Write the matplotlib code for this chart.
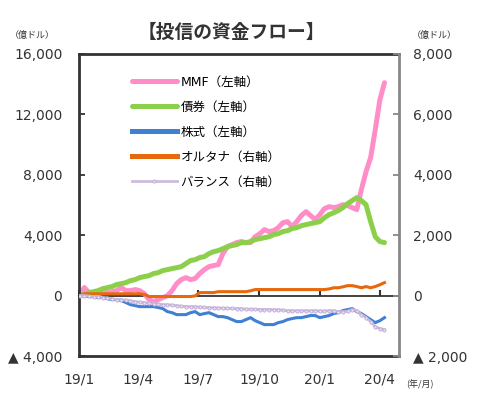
import numpy as np
import pandas as pd
import matplotlib
matplotlib.use('Agg')
import matplotlib.pyplot as plt

plt.rcParams['font.family'] = ['DejaVu Sans', 'Noto Sans CJK JP']

# weekly flows, 2019/1 - 2020/4 (cumulative, 億ドル)
weeks = pd.date_range('2019-01-02', periods=67, freq='7D')

mmf = [0, 530, 200, 130, 130, 200, 200, 260, 330, 530, 330, 330, 400, 330, 130,
       -260, -400, -260, -130, 0, 330, 790, 1060, 1190, 1060, 1130, 1460, 1720,
       1920, 1990, 2050, 2780, 3240, 3380, 3510, 3580, 3510, 3510, 3900, 4100,
       4370, 4240, 4300, 4500, 4830, 4900, 4570, 4900, 5300, 5560, 5300, 5030,
       5360, 5760, 5890, 5830, 5890, 6020, 5960, 5830, 5690, 7020, 8210, 9140,
       10990, 12970, 14100]

bonds = [0, 70, 200, 260, 330, 460, 530, 600, 730, 790, 860, 990, 1060, 1190,
         1260, 1320, 1460, 1520, 1660, 1720, 1790, 1850, 1920, 2120, 2320, 2380,
         2520, 2580, 2780, 2910, 2980, 3110, 3240, 3310, 3380, 3510, 3510, 3580,
         3710, 3770, 3840, 3900, 4040, 4100, 4240, 4300, 4440, 4500, 4630, 4700,
         4770, 4830, 4900, 5160, 5360, 5490, 5630, 5830, 6090, 6290, 6490, 6290,
         6020, 4900, 3900, 3580, 3510]

equities = [70, 0, -70, -70, -130, -130, -200, -260, -260, -330, -460, -600,
            -660, -730, -730, -730, -730, -790, -860, -1060, -1130, -1260, -1260,
            -1260, -1130, -1060, -1260, -1190, -1130, -1260, -1390, -1390, -1460,
            -1590, -1720, -1720, -1590, -1460, -1660, -1790, -1920, -1920, -1920,
            -1790, -1720, -1590, -1520, -1460, -1460, -1390, -1320, -1320, -1460,
            -1390, -1320, -1190, -1130, -990, -930, -860, -1060, -1190, -1390,
            -1590, -1790, -1660, -1460]

alternative = [0, 60, 60, 60, 60, 60, 60, 60, 60, 60, 60, 60, 60, 60, 40, -30,
               -30, -30, -30, -30, -30, -30, -30, -30, -30, -10, 100, 100, 100,
               100, 130, 130, 130, 130, 130, 130, 130, 160, 200, 200, 200, 200,
               200, 200, 200, 200, 200, 200, 200, 200, 200, 200, 200, 200, 220,
               260, 260, 290, 330, 330, 300, 260, 300, 260, 300, 360, 430]

balanced = [0, 0, -20, -30, -30, -70, -80, -100, -130, -130, -150, -170, -200,
            -215, -230, -250, -265, -280, -300, -300, -315, -330, -350, -365,
            -365, -370, -380, -390, -400, -400, -410, -415, -420, -425, -430,
            -430, -450, -450, -455, -460, -460, -460, -465, -470, -480, -500,
            -500, -500, -500, -500, -500, -500, -510, -510, -500, -500, -530,
            -530, -520, -460, -500, -630, -730, -860, -1030, -1090, -1125]

left_ticks = [-4000, 0, 4000, 8000, 12000, 16000]
left_labels = ['▲ 4,000', '0', '4,000', '8,000', '12,000', '16,000']
right_ticks = [-2000, 0, 2000, 4000, 6000, 8000]
right_labels = ['▲ 2,000', '0', '2,000', '4,000', '6,000', '8,000']
month_ticks = pd.to_datetime(['2019-01-01', '2019-04-01', '2019-07-01',
                              '2019-10-01', '2020-01-01', '2020-04-01'])
month_labels = ['19/1', '19/4', '19/7', '19/10', '20/1', '20/4']

fig = plt.figure(figsize=(4.83, 3.95), dpi=100)
ax = fig.add_axes([0.1636, 0.0987, 0.6625, 0.7646])
ax2 = ax.twinx()

l1, = ax.plot(weeks, mmf, color='#ff8ec8', lw=3.6, solid_capstyle='round',
              label='MMF（左軸）')
l2, = ax.plot(weeks, bonds, color='#8ccf4a', lw=3.6, solid_capstyle='round',
              label='債券（左軸）')
l3, = ax.plot(weeks, equities, color='#3f80d4', lw=2.2, label='株式（左軸）')
l4, = ax2.plot(weeks, alternative, color='#e8680c', lw=2.2, label='オルタナ（右軸）')
l5, = ax2.plot(weeks, balanced, color='#cdbce0', lw=2, marker='o', ms=2.3,
               mfc='#e9e0f2', mec='#bba6d4', mew=0.6, label='バランス（右軸）')

ax.set_xlim(pd.Timestamp('2019-01-01'), pd.Timestamp('2020-04-30'))
ax.set_ylim(-4000, 16000)
ax2.set_ylim(-2000, 8000)

ax.set_yticks(left_ticks)
ax.set_yticklabels(left_labels)
ax2.set_yticks(right_ticks)
ax2.set_yticklabels(right_labels)
ax.set_xticks(month_ticks)
ax.set_xticklabels(month_labels)

ax.tick_params(axis='y', direction='in', length=4, width=1.3, color='#333333',
               labelsize=10, labelcolor='#333333', pad=12)
ax2.tick_params(axis='y', direction='in', length=4, width=1.3, color='#888888',
                labelsize=10, labelcolor='#333333', pad=10)
ax.tick_params(axis='x', length=0, labelsize=10, labelcolor='#333333', pad=12)

for name in ['left', 'top', 'bottom']:
    ax2.spines[name].set_visible(False)
ax2.spines['right'].set_color('#888888')
ax2.spines['right'].set_linewidth(2)
ax.spines['right'].set_visible(False)
for name in ['left', 'top', 'bottom']:
    ax.spines[name].set_color('#333333')
    ax.spines[name].set_linewidth(2)

# zero line with quarterly ticks
zero = ax.secondary_xaxis(0.2)
zero.set_xticks(month_ticks)
zero.tick_params(direction='in', length=4, width=1.5, color='#333333',
                 labelbottom=False)
zero.spines['bottom'].set_color('#333333')
zero.spines['bottom'].set_linewidth(1.3)

leg = ax2.legend(handles=[l1, l2, l3, l4, l5], loc='upper left',
                 bbox_to_anchor=(0.13, 0.965), frameon=False, fontsize=9,
                 handlelength=3.6, handletextpad=0.3, labelspacing=0.95)
for h in leg.legend_handles[:4]:
    h.set_linewidth(3.6)

fig.text(0.48, 0.918, '【投信の資金フロー】', ha='center', va='center',
         fontsize=13.5, fontweight='bold', color='#333333',
         family=['Noto Sans CJK JP'])
fig.text(0.066, 0.911, '（億ドル）', ha='center', va='center', fontsize=6.5,
         color='#333333', family=['Noto Sans CJK JP'])
fig.text(0.90, 0.911, '（億ドル）', ha='center', va='center', fontsize=6.5,
         color='#333333', family=['Noto Sans CJK JP'])
fig.text(0.87, 0.028, '(年/月)', ha='center', va='center', fontsize=6.5,
         color='#333333', family=['Noto Sans CJK JP'])

fig.savefig('out.png', dpi=100)
